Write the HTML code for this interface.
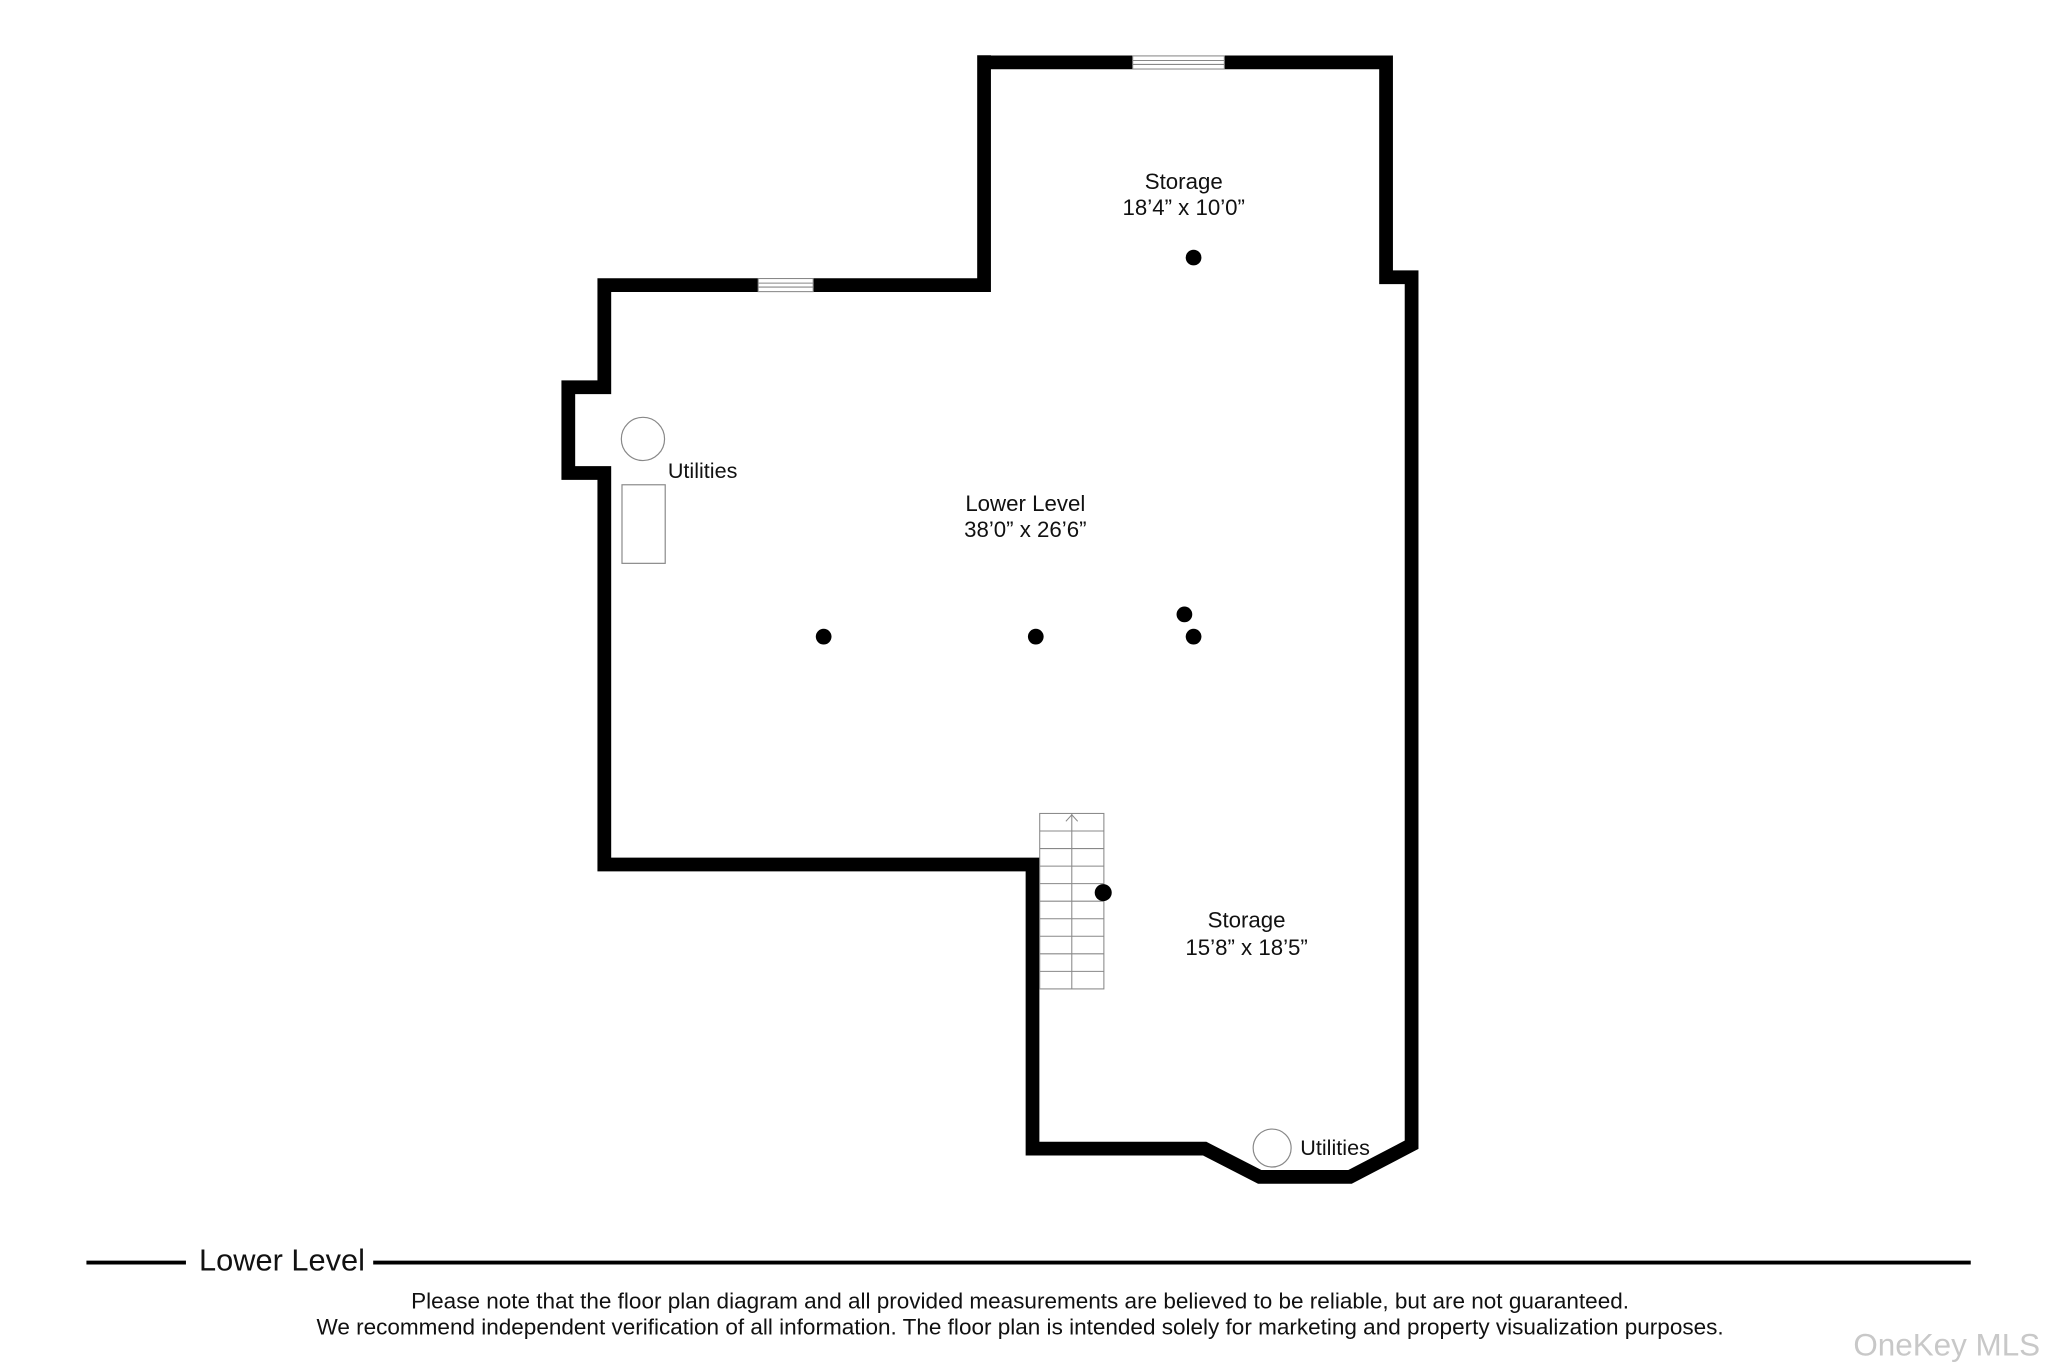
<!DOCTYPE html>
<html><head><meta charset="utf-8"><style>
html,body{margin:0;padding:0;background:#fff;}
svg{display:block;}
text{font-family:"Liberation Sans",Arial,sans-serif;fill:#111;}
</style></head><body>
<svg width="2048" height="1365" viewBox="0 0 1564 1042" xmlns="http://www.w3.org/2000/svg">
<rect width="1564" height="1042" fill="#fff"/>
<!-- walls -->
<polyline fill="none" stroke="#000" stroke-width="10.5" stroke-linejoin="miter"
 points="751.5,47.4 1058.5,47.4 1058.5,211.5 1078,211.5 1078,874 1031,898.5 962,898.5 920,877 788.5,877 788.5,660 461.5,660 461.5,361 434,361 434,295.5 461.5,295.5 461.5,217.5 751.5,217.5 751.5,42"/>
<!-- windows -->
<g stroke="#888" stroke-width="0.8" fill="#fff">
<rect x="865" y="42.5" width="70" height="10"/>
<line x1="865" y1="46" x2="935" y2="46"/><line x1="865" y1="49" x2="935" y2="49"/>
<rect x="579" y="212.5" width="42" height="10"/>
<line x1="579" y1="216" x2="621" y2="216"/><line x1="579" y1="219" x2="621" y2="219"/>
</g>
<!-- stairs -->
<g stroke="#888" stroke-width="0.8" fill="#fff">
<rect x="794" y="621" width="49" height="134"/>
<line x1="818.5" y1="621" x2="818.5" y2="755"/>
<line x1="794" y1="634.4" x2="843" y2="634.4"/>
<line x1="794" y1="647.8" x2="843" y2="647.8"/>
<line x1="794" y1="661.2" x2="843" y2="661.2"/>
<line x1="794" y1="674.6" x2="843" y2="674.6"/>
<line x1="794" y1="688" x2="843" y2="688"/>
<line x1="794" y1="701.4" x2="843" y2="701.4"/>
<line x1="794" y1="714.8" x2="843" y2="714.8"/>
<line x1="794" y1="728.2" x2="843" y2="728.2"/>
<line x1="794" y1="741.6" x2="843" y2="741.6"/>
<polyline fill="none" points="814,627 818.5,622 823,627"/>
</g>
<!-- fixtures -->
<g stroke="#888" stroke-width="0.9" fill="none">
<circle cx="491" cy="335" r="16.5"/>
<rect x="475" y="370" width="33" height="60"/>
<circle cx="971.5" cy="876.5" r="14.5"/>
</g>
<!-- dots -->
<g fill="#000">
<circle cx="911.5" cy="196.5" r="6"/>
<circle cx="629" cy="486" r="6"/>
<circle cx="791" cy="486" r="6"/>
<circle cx="904.5" cy="469" r="6"/>
<circle cx="911.5" cy="486" r="6"/>
<circle cx="842.5" cy="681.5" r="6.5"/>
</g>
<!-- labels -->
<g font-size="17" text-anchor="middle">
<text x="904" y="144">Storage</text>
<text x="904" y="164">18’4” x 10’0”</text>
<text x="783" y="390">Lower Level</text>
<text x="783" y="410">38’0” x 26’6”</text>
<text x="952" y="708">Storage</text>
<text x="952" y="729">15’8” x 18’5”</text>
</g>
<g font-size="16.5">
<text x="510" y="365">Utilities</text>
<text x="993" y="882">Utilities</text>
</g>
<!-- legend -->
<line x1="66" y1="964" x2="142" y2="964" stroke="#000" stroke-width="3"/>
<line x1="285" y1="964" x2="1505" y2="964" stroke="#000" stroke-width="3"/>
<text x="152" y="970" font-size="23.5">Lower Level</text>
<g font-size="17.2" text-anchor="middle">
<text x="779" y="999">Please note that the floor plan diagram and all provided measurements are believed to be reliable, but are not guaranteed.</text>
<text x="779" y="1019">We recommend independent verification of all information. The floor plan is intended solely for marketing and property visualization purposes.</text>
</g>
<text x="1558" y="1035" font-size="24" text-anchor="end" style="fill:#c8c8c8">OneKey MLS</text>
</svg>
</body></html>
